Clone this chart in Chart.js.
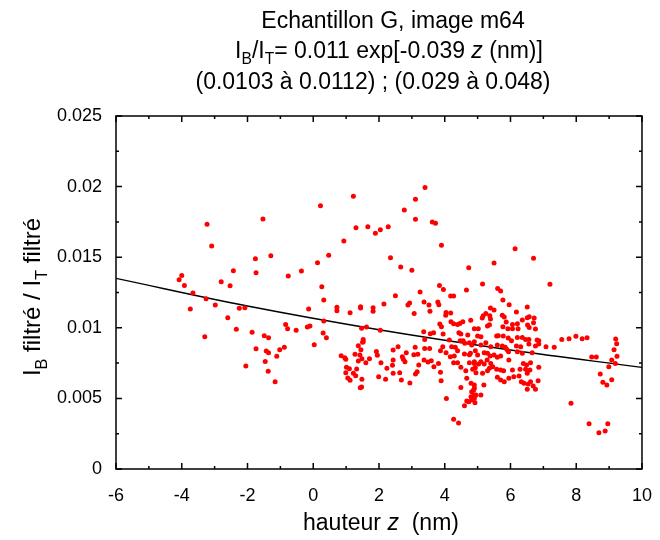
<!DOCTYPE html>
<html>
<head>
<meta charset="utf-8">
<script src="https://cdn.jsdelivr.net/npm/chart.js@4.4.0/dist/chart.umd.min.js"></script>
<style>
  body { margin: 0; background: #fff; }
  canvas { display: block; }
</style>
</head>
<body>
<canvas id="chart" width="660" height="540"></canvas>
<script>
// hauteur z (nm) and I_B/I_T
const heightNm = [
  -3.23, -3.09, -1.76, -2.43, -1.74, -4.00, -4.08, -3.92, -2.80, -2.53, -3.66, -3.26, -2.98, -3.74, -2.25, -2.08,
  -2.60, -2.34, -1.86, -3.30, -1.74, -2.05,
  1.22, 0.22, -1.53, 1.30, 1.66, 1.89, 2.04, 2.28, 0.93, -1.29, 0.47, 0.13, -0.36, -0.76, 0.26, 0.32, -0.14,
  0.72, 0.72, 1.12, 1.44, 1.44, 1.82, 1.82, 2.15,
  -0.84, -0.78, -1.49, -1.36, -0.52, -0.18, -0.10, 0.32, 0.30, 0.40, 1.47, 1.62, 2.04, -1.43, -1.36, -1.02,
  -0.88, -1.11, -1.46, -1.37, -1.16, 0.03, 1.52, 1.52, 1.50, 1.37, 1.45, 0.85, 0.96, 0.99, 1.27, 1.42, 1.48,
  1.60, 1.37, 1.71, 1.92, 1.95, 2.06, 2.24, 1.01, 1.10, 1.32, 0.99, 1.22, 1.29, 1.05, 1.12, 1.48, 1.99, 2.20,
  1.43, 1.47,
  3.40, 3.11, 2.77, 3.11, 3.62, 3.72, 3.90, 2.35, 2.66, 3.00, 4.73, 3.84, 3.96, 4.66, 3.25, 2.50, 4.18, 4.27,
  2.88, 2.93, 3.37, 3.52, 3.79, 3.82, 3.07, 3.55, 4.04, 4.03, 4.18, 4.19, 4.27, 4.39, 4.46, 4.55, 4.79, 3.85,
  3.90, 4.90,
  3.36, 3.56, 3.66, 3.95, 4.43, 4.49, 4.70, 3.39, 4.14, 4.47, 4.56, 4.61, 4.75, 4.82, 4.90, 2.58, 2.43, 3.10,
  3.39, 3.54, 3.94, 3.87, 4.21, 4.32, 4.39, 4.04, 2.83, 3.06, 3.18, 2.71, 2.74, 2.79, 2.43, 4.17, 4.29, 4.60,
  4.75, 4.93, 3.37, 3.49, 3.59, 3.81, 3.67, 3.21, 4.27, 4.39, 4.75, 4.90, 2.41, 4.49, 4.64, 4.93, 2.43, 2.63,
  3.87, 3.16, 3.11, 2.68, 2.94, 3.89, 4.67, 4.49, 4.90, 4.82, 4.90, 4.80, 4.90, 4.05, 4.67, 4.60, 4.27, 4.42,
  6.14, 6.70, 5.50, 5.15, 5.61, 5.70, 7.20, 5.77, 5.96, 6.51, 6.18, 5.39, 5.50, 5.25, 5.17, 5.14, 5.37, 5.39,
  5.75, 5.81, 5.87, 6.06, 6.21, 6.36, 6.51, 6.57, 6.72, 6.70, 6.52, 6.57, 5.30, 5.36, 5.77, 5.92, 6.06, 6.23,
  5.02, 6.76,
  5.00, 5.10, 5.58, 5.63, 5.78, 5.93, 6.03, 6.21, 6.36, 6.46, 6.56, 6.81, 6.86, 5.10, 5.25, 5.40, 5.60, 5.75,
  5.84, 5.89, 5.94, 6.18, 6.31, 6.56, 6.76, 6.86, 7.08, 7.33, 6.21, 6.36, 6.66, 4.78, 5.00, 5.20, 5.30, 5.38,
  5.50, 5.60, 5.70, 5.95, 5.10, 5.29, 4.90, 5.03, 5.40, 5.20, 5.46, 5.36, 5.58, 6.39, 6.49, 6.61, 6.46, 6.59,
  6.86, 5.70, 5.79, 6.06, 6.29, 6.51, 4.85, 4.95, 5.15, 5.30, 5.60, 5.70, 5.81, 5.95, 6.10, 6.26, 6.33, 6.41,
  6.54, 6.61, 6.84, 6.69, 6.51, 6.76, 4.80, 4.90, 5.19, 4.88, 4.95, 5.10, 4.82, 4.92, 4.73,
  7.56, 7.78, 7.99, 8.18, 8.33, 8.47, 8.61, 8.73, 8.81, 8.93, 9.08, 8.99, 9.08, 9.20, 9.23, 9.15, 9.24, 9.19,
  7.84, 8.39, 8.69, 8.88, 8.96
];
const ratioBT = [
  0.01733, 0.01579, 0.01489, 0.01404, 0.0139, 0.01371, 0.0134, 0.0130, 0.01326, 0.01298, 0.01246, 0.01206, 0.01161, 0.01133, 0.01138, 0.01142,
  0.01071, 0.00989, 0.00968, 0.00937, 0.00852, 0.00729,
  0.01931, 0.01864, 0.0177, 0.01708, 0.01715, 0.01669, 0.01694, 0.01715, 0.01614, 0.0151, 0.01513, 0.01461, 0.01402, 0.01366, 0.01291, 0.01197, 0.01133,
  0.01145, 0.01121, 0.01107, 0.01149, 0.0114, 0.01142, 0.01117, 0.01168,
  0.01024, 0.00993, 0.00944, 0.0093, 0.00982, 0.01005, 0.01012, 0.01048, 0.00963, 0.0093, 0.00996, 0.01005, 0.00982, 0.00835, 0.00823, 0.00845,
  0.00862, 0.00798, 0.00762, 0.00692, 0.00618, 0.0088, 0.00901, 0.00918, 0.00897, 0.00873, 0.00845, 0.00802, 0.00788, 0.00777, 0.00812, 0.00807, 0.00781,
  0.00753, 0.00765, 0.00781, 0.00833, 0.00805, 0.00753, 0.00713, 0.0072, 0.0071, 0.00708, 0.00682, 0.00678, 0.0066, 0.00644, 0.00628, 0.00635, 0.00653, 0.00635,
  0.00576, 0.00581,
  0.01994, 0.0191, 0.01834, 0.01768, 0.01749, 0.0174, 0.01584, 0.01496, 0.0143, 0.01407, 0.01425, 0.013, 0.01272, 0.01267, 0.01253, 0.01227, 0.01225, 0.01225,
  0.01161, 0.01175, 0.01182, 0.01161, 0.01182, 0.01163, 0.01102, 0.01117, 0.01109, 0.01088, 0.01104, 0.01043, 0.01029, 0.01024, 0.01031, 0.01043, 0.01053, 0.01027,
  0.01007, 0.00993,
  0.00972, 0.00958, 0.00965, 0.00956, 0.00965, 0.00956, 0.00949, 0.00918, 0.00913, 0.00908, 0.00908, 0.0089, 0.00894, 0.00878, 0.00901, 0.00866, 0.00843, 0.00862,
  0.00854, 0.00854, 0.00866, 0.00838, 0.00866, 0.00862, 0.00838, 0.00823, 0.00823, 0.00809, 0.00812, 0.00795, 0.00777, 0.0076, 0.00772, 0.00795, 0.008, 0.00814,
  0.00809, 0.00838, 0.00772, 0.00758, 0.00767, 0.00748, 0.00724, 0.00736, 0.00753, 0.00753, 0.00753, 0.0076, 0.00734, 0.0072, 0.00696, 0.00717, 0.00678, 0.00682,
  0.00685, 0.00689, 0.00673, 0.0063, 0.00609, 0.00625, 0.00642, 0.00578, 0.00571, 0.00547, 0.00524, 0.00512, 0.005, 0.005, 0.00481, 0.00448, 0.00352, 0.00326,
  0.0156, 0.01492, 0.01459, 0.0131, 0.01279, 0.0126, 0.01308, 0.01197, 0.01163, 0.01147, 0.01112, 0.0114, 0.01126, 0.01102, 0.01085, 0.01069, 0.01085, 0.01062,
  0.01088, 0.01076, 0.01041, 0.01024, 0.01029, 0.01055, 0.01071, 0.01078, 0.01069, 0.01036, 0.0102, 0.01003, 0.01012, 0.01022, 0.01007, 0.00993, 0.00993, 0.00993,
  0.00993, 0.00991,
  0.00942, 0.00937, 0.00942, 0.00944, 0.00942, 0.00927, 0.00908, 0.00932, 0.00932, 0.00918, 0.00918, 0.00913, 0.00908, 0.00878, 0.00894, 0.00866, 0.00878, 0.00871,
  0.00862, 0.00847, 0.0083, 0.00871, 0.00866, 0.00885, 0.00871, 0.00885, 0.00866, 0.00862, 0.0083, 0.00819, 0.00823, 0.00819, 0.00807, 0.00823, 0.00819, 0.008,
  0.00807, 0.00791, 0.008, 0.00772, 0.0076, 0.00772, 0.00748, 0.00743, 0.00748, 0.00743, 0.00724, 0.00713, 0.00706, 0.00748, 0.00736, 0.00753, 0.00706, 0.00701,
  0.0072, 0.00701, 0.00696, 0.00701, 0.00706, 0.00678, 0.00706, 0.00682, 0.00678, 0.00696, 0.00649, 0.0063, 0.00618, 0.00642, 0.00653, 0.00658, 0.00618, 0.00607,
  0.00602, 0.00618, 0.00625, 0.00588, 0.00564, 0.00564, 0.00607, 0.00595, 0.00595, 0.00559, 0.00524, 0.00524, 0.00489, 0.00469, 0.00476,
  0.00918, 0.00922, 0.0094, 0.00922, 0.0093, 0.00793, 0.00793, 0.00673, 0.00614, 0.00595, 0.00632, 0.00724, 0.00772, 0.0092, 0.00887, 0.00845, 0.00798, 0.00748,
  0.00465, 0.00321, 0.00257, 0.00269, 0.00321
];

// fitted curve, values
const fitZ = [-6, -2, 2, 6, 10];
const fitRatio = [0.0135, 0.01154, 0.00986, 0.00843, 0.0072];

const xTickValues = [-6, -4, -2, 0, 2, 4, 6, 8, 10];
const yTickValues = [0, 0.005, 0.01, 0.015, 0.02, 0.025];

const FONT = '"Liberation Sans", Arial, sans-serif';

// draws a run of pieces: {t, sub, it}
function drawRich(ctx, parts, x, y, size, align) {
  let w = 0;
  parts.forEach(p => {
    ctx.font = (p.it ? 'italic ' : '') + (p.sub ? size * 0.68 : size) + 'px ' + FONT;
    p.w = ctx.measureText(p.t).width;
    w += p.w;
  });
  let cx = align === 'center' ? x - w / 2 : x;
  parts.forEach(p => {
    ctx.font = (p.it ? 'italic ' : '') + (p.sub ? size * 0.68 : size) + 'px ' + FONT;
    ctx.fillText(p.t, cx, p.sub ? y + size * 0.28 : y);
    cx += p.w;
  });
}

const framePlugin = {
  id: 'frame',
  afterDatasetsDraw(chart) {
    const { ctx, chartArea: a, scales } = chart;
    ctx.save();
    ctx.strokeStyle = '#000';
    ctx.lineWidth = 1.5;
    ctx.strokeRect(a.left, a.top, a.right - a.left, a.bottom - a.top);
    ctx.beginPath();
    for (let v = -6; v <= 10; v += 1) {
      const px = scales.x.getPixelForValue(v);
      const len = v % 2 === 0 ? 6 : 3;
      ctx.moveTo(px, a.bottom); ctx.lineTo(px, a.bottom - len);
      ctx.moveTo(px, a.top); ctx.lineTo(px, a.top + len);
    }
    for (let i = 0; i <= 10; i++) {
      const py = scales.y.getPixelForValue(i * 0.0025);
      const len = i % 2 === 0 ? 6 : 3;
      ctx.moveTo(a.left, py); ctx.lineTo(a.left + len, py);
      ctx.moveTo(a.right, py); ctx.lineTo(a.right - len, py);
    }
    ctx.stroke();

    ctx.fillStyle = '#000';
    ctx.textBaseline = 'alphabetic';
    ctx.textAlign = 'left';
    drawRich(ctx, [{ t: 'Echantillon G, image m64' }], 393, 28, 23, 'center');
    drawRich(ctx, [
      { t: 'I' }, { t: 'B', sub: true }, { t: '/I' }, { t: 'T', sub: true },
      { t: '= 0.011 exp[-0.039 ' }, { t: 'z', it: true }, { t: ' (nm)]' }
    ], 389, 58, 23, 'center');
    drawRich(ctx, [{ t: '(0.0103 à 0.0112) ; (0.029 à 0.048)' }], 373, 89, 23, 'center');

    // axis titles
    drawRich(ctx, [{ t: 'hauteur ' }, { t: 'z', it: true }, { t: '  (nm)' }], 381, 530, 23, 'center');
    ctx.translate(40, 297);
    ctx.rotate(-Math.PI / 2);
    drawRich(ctx, [
      { t: 'I' }, { t: 'B', sub: true }, { t: ' filtré / I' }, { t: 'T', sub: true }, { t: ' filtré' }
    ], 0, 0, 24, 'center');
    ctx.restore();
  }
};

const points = heightNm.map((z, i) => ({ x: z, y: ratioBT[i] }));
const fitPoints = fitZ.map((z, i) => ({ x: z, y: fitRatio[i] }));

new Chart(document.getElementById('chart'), {
  type: 'scatter',
  data: {
    datasets: [
      {
        data: points,
        backgroundColor: '#ff0000',
        borderWidth: 0,
        pointRadius: 2.5,
        pointHoverRadius: 2.5
      },
      {
        type: 'line',
        data: fitPoints,
        borderColor: '#000',
        borderWidth: 1.4,
        pointRadius: 0,
        tension: 0.4,
        fill: false
      }
    ]
  },
  options: {
    responsive: false,
    animation: false,
    layout: { padding: { top: 116, right: 14, left: 0, bottom: 0 } },
    plugins: { legend: { display: false }, tooltip: { enabled: false } },
    scales: {
      x: {
        type: 'linear',
        min: -6,
        max: 10,
        afterBuildTicks: s => { s.ticks = xTickValues.map(v => ({ value: v })); },
        afterFit: s => { s.height = 71; },
        ticks: { color: '#000', font: { size: 18, family: FONT }, padding: 8, maxRotation: 0 },
        grid: { display: false },
        border: { display: false }
      },
      y: {
        min: 0,
        max: 0.025,
        afterBuildTicks: s => { s.ticks = yTickValues.map(v => ({ value: v })); },
        afterFit: s => { s.width = 116; },
        ticks: {
          color: '#000',
          font: { size: 18, family: FONT },
          padding: 6,
          callback: v => String(Number(v.toFixed(3)))
        },
        grid: { display: false },
        border: { display: false }
      }
    }
  },
  plugins: [framePlugin]
});
</script>
</body>
</html>
